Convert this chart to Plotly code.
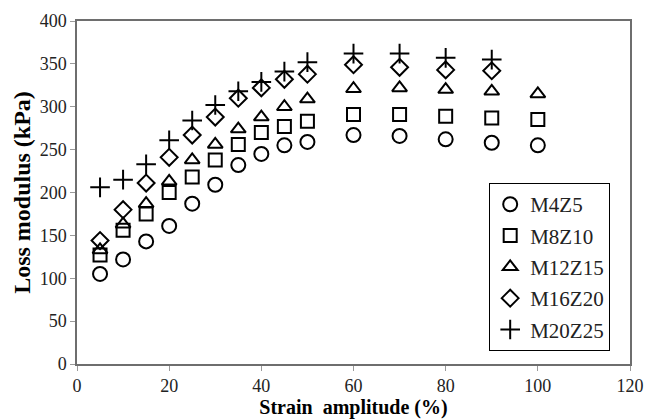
import plotly.graph_objects as go

strain = [5, 10, 15, 20, 25, 30, 35, 40, 45, 50, 60, 70, 80, 90, 100]
strain_short = [5, 10, 15, 20, 25, 30, 35, 40, 45, 50, 60, 70, 80, 90]

m4z5 = [105, 122, 143, 161, 187, 209, 232, 245, 255, 259, 267, 266, 262, 258, 255]
m8z10 = [127, 156, 175, 200, 218, 238, 256, 270, 277, 283, 291, 291, 289, 287, 285]
m12z15 = [133, 163, 187, 213, 238, 256, 274, 288, 300, 309, 321, 322, 320, 318, 315]
m16z20 = [144, 180, 211, 241, 267, 288, 310, 322, 332, 338, 349, 346, 343, 342]
m20z25 = [206, 215, 233, 261, 284, 302, 318, 329, 341, 352, 362, 362, 357, 355]

series = [
    ("M4Z5", strain, m4z5, "circle-open", 14),
    ("M8Z10", strain, m8z10, "square-open", 13),
    ("M12Z15", strain, m12z15, "triangle-up-open", 13),
    ("M16Z20", strain_short, m16z20, "diamond-open", 13),
    ("M20Z25", strain_short, m20z25, "cross-thin-open", 14),
]

fig = go.Figure()
for name, xs, ys, sym, sz in series:
    fig.add_trace(go.Scatter(
        x=xs, y=ys, mode="markers", name=name, legendgroup=name,
        marker=dict(symbol=sym, size=sz, color="black",
                    line=dict(color="black", width=2)),
    ))

font = "Liberation Serif, Times New Roman, serif"
fig.update_layout(
    width=646, height=420,
    margin=dict(l=77, r=16, t=21, b=56, autoexpand=False),
    paper_bgcolor="white", plot_bgcolor="white",
    font=dict(family=font, size=18, color="black"),
    showlegend=True,
    legend=dict(
        x=0.745, y=0.528, xanchor="left", yanchor="top",
        bordercolor="black", borderwidth=1.2, bgcolor="white",
        font=dict(family=font, size=21, color="#222"),
        tracegroupgap=1, itemwidth=30,
    ),
    xaxis=dict(
        range=[0, 120], tickvals=[0, 20, 40, 60, 80, 100, 120],
        showline=True, linecolor="#6e6e6e", linewidth=1.5, mirror=True,
        ticks="outside", ticklen=5, tickcolor="#9a9a9a",
        showgrid=False, zeroline=False, automargin=False,
        tickfont=dict(family=font, size=18, color="#222"),
        title=dict(text="<b>Strain&nbsp;&nbsp;amplitude (%)</b>", standoff=4,
                   font=dict(family=font, size=20, color="black")),
    ),
    yaxis=dict(
        range=[0, 400], tickvals=[0, 50, 100, 150, 200, 250, 300, 350, 400],
        showline=True, linecolor="#6e6e6e", linewidth=1.5, mirror=True,
        ticks="outside", ticklen=5, tickcolor="#9a9a9a",
        showgrid=False, zeroline=False, automargin=False,
        tickfont=dict(family=font, size=18, color="#222"),
        title=dict(text="<b>Loss modulus (kPa)</b>", standoff=2,
                   font=dict(family=font, size=24, color="black")),
    ),
)

fig.write_html("out.html")
